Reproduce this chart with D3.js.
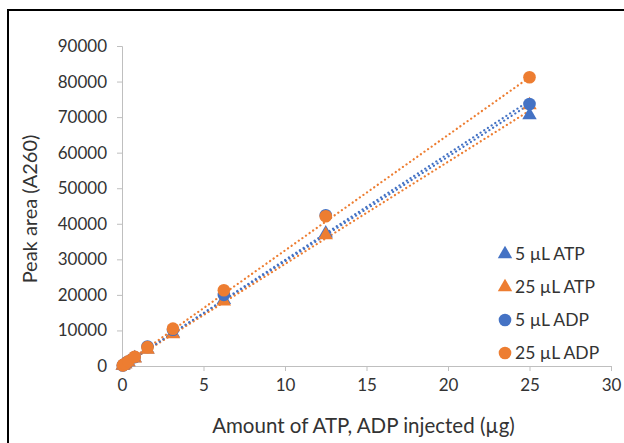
<!DOCTYPE html>
<html lang="en">
<head>
    <meta charset="UTF-8">
    <title>Peak area vs amount injected</title>
    <script src="https://d3js.org/d3.v7.min.js"></script>
    <style>
        body { margin: 0; background: #fff; font-family: 'Lato', sans-serif; }
        svg { display: block; }
    </style>
</head>
<body>
    <script>
        const width = 624;
        const height = 443;

        // amounts injected (ug), two-fold dilution series
        const amounts = [0.049, 0.098, 0.195, 0.39, 0.78, 1.5625, 3.125, 6.25, 12.5, 25];
        const atp5 = [150, 290, 560, 1100, 2200, 4700, 9200, 18600, 37300, 70600];
        const atp25 = [140, 280, 550, 1080, 2150, 4600, 9000, 18200, 36800, 73400];
        const adp5 = [160, 310, 620, 1250, 2500, 5500, 10200, 20000, 42400, 73700];
        const adp25 = [170, 330, 650, 1300, 2600, 5300, 10500, 21300, 42100, 81200];

        // dotted linear trendlines: value at first and last amount
        const trendStart = [150, 100, 150, 200];
        const trendEnd = [73600, 71800, 74600, 81200];

        const seriesNames = ["5 µL ATP", "25 µL ATP", "5 µL ADP", "25 µL ADP"];
        const seriesColors = ["#4472C4", "#ED7D31", "#4472C4", "#ED7D31"];
        const seriesShapes = ["triangle", "triangle", "circle", "circle"];
        const seriesValues = [atp5, atp25, adp5, adp25];

        const xTicks = [0, 5, 10, 15, 20, 25, 30];
        const yTicks = [0, 10000, 20000, 30000, 40000, 50000, 60000, 70000, 80000, 90000];

        const series = seriesNames.map((name, i) => ({
            name,
            color: seriesColors[i],
            shape: seriesShapes[i],
            trend: [trendStart[i], trendEnd[i]],
            points: amounts.map((x, j) => ({ x, y: seriesValues[i][j] }))
        }));

        const svg = d3.select("body").append("svg")
            .attr("width", width)
            .attr("height", height);

        // frame around the figure
        svg.append("rect")
            .attr("x", 8).attr("y", 10)
            .attr("width", 700).attr("height", 500)
            .attr("fill", "none")
            .attr("stroke", "#000")
            .attr("stroke-width", 2);

        const x = d3.scaleLinear().domain([0, 30]).range([122, 611]);
        const y = d3.scaleLinear().domain([0, 90000]).range([366, 46]);

        // axes
        const xAxis = svg.append("g")
            .attr("transform", `translate(0,${y(0)})`)
            .call(d3.axisBottom(x).tickValues(xTicks).tickSize(5).tickPadding(8));
        const yAxis = svg.append("g")
            .attr("transform", `translate(${x(0)},0)`)
            .call(d3.axisLeft(y).tickValues(yTicks).tickSize(5).tickPadding(10).tickFormat(d3.format("d")));

        [xAxis, yAxis].forEach(g => {
            g.select(".domain").attr("stroke", "#bfbfbf").attr("stroke-width", 1);
            g.selectAll(".tick line").attr("stroke", "#bfbfbf");
            g.selectAll(".tick text")
                .attr("fill", "#333")
                .style("font-family", "Lato, sans-serif")
                .style("font-size", "17px");
        });

        svg.append("text")
            .attr("x", (x(0) + x(30)) / 2 - 3)
            .attr("y", 433)
            .attr("text-anchor", "middle")
            .attr("fill", "#333")
            .style("font-size", "20.5px")
            .text("Amount of ATP, ADP injected (µg)");

        svg.append("text")
            .attr("transform", `translate(37,${y(45000) + 3}) rotate(-90)`)
            .attr("text-anchor", "middle")
            .attr("fill", "#333")
            .style("font-size", "20px")
            .text("Peak area (A260)");

        // trendlines
        series.forEach(s => {
            const x0 = d3.min(amounts), x1 = d3.max(amounts);
            svg.append("line")
                .attr("x1", x(x0)).attr("y1", y(s.trend[0]))
                .attr("x2", x(x1)).attr("y2", y(s.trend[1]))
                .attr("stroke", s.color)
                .attr("stroke-width", 2.2)
                .attr("stroke-linecap", "round")
                .attr("stroke-dasharray", "0.1 4.3");
        });

        const triangle = d3.symbol().type(d3.symbolTriangle).size(90);
        const circle = d3.symbol().type(d3.symbolCircle).size(125);

        // markers
        series.forEach(s => {
            svg.append("g")
                .selectAll("path")
                .data(s.points)
                .join("path")
                .attr("transform", d => `translate(${x(d.x)},${y(d.y)})`)
                .attr("d", s.shape === "triangle" ? triangle() : circle())
                .attr("fill", s.color);
        });

        // legend
        const legend = svg.append("g")
            .selectAll("g")
            .data(series)
            .join("g")
            .attr("transform", (d, i) => `translate(505,${254 + i * 33})`);
        legend.append("path")
            .attr("d", d => d.shape === "triangle" ? triangle() : circle())
            .attr("fill", d => d.color);
        legend.append("text")
            .attr("x", 10)
            .attr("y", 6)
            .attr("fill", "#333")
            .style("font-size", "17.5px")
            .text(d => d.name);
    </script>
</body>
</html>
